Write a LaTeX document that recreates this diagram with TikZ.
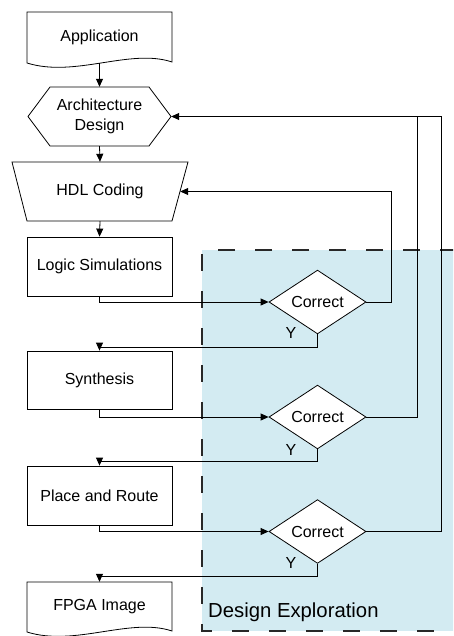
\documentclass[tikz,border=0pt]{standalone}
\usepackage{fontspec}
\setmainfont{Liberation Sans}
\usetikzlibrary{arrows.meta,shapes.geometric,calc}

\definecolor{exploreblue}{RGB}{211,235,242}
\definecolor{edgegray}{RGB}{40,40,40}

\tikzset{
  flow/.style={line width=0.8pt, draw=black},
  arr/.style={flow, -{Triangle[length=8pt,width=7pt]}},
  lbl/.style={font=\fontsize{16}{20}\selectfont},
  holder/.style={rectangle, draw=none, inner sep=0pt, align=center, lbl},
  stepbox/.style={rectangle, draw, fill=white, line width=0.8pt, inner sep=0pt,
    minimum width=145pt, minimum height=59pt, lbl},
  check/.style={diamond, draw, fill=white, line width=0.8pt, inner sep=0pt,
    minimum width=97pt, minimum height=58pt, lbl},
  regionedge/.style={line width=1.4pt, draw=edgegray, dash pattern=on 17pt off 20pt},
  regionlabel/.style={font=\fontsize{20.3}{24}\selectfont, inner sep=0pt}
}

\begin{document}
\begin{tikzpicture}[x=1pt,y=-1pt]
\clip (0,0) rectangle (453,636);

% design exploration region
\fill[exploreblue] (202,250) rectangle (470,631);
\draw[regionedge, dash phase=-13pt] (470,250) -- (202,250) -- (202,631) -- (470,631);
\node[regionlabel, anchor=west] (explore) at (208,612) {Design Exploration};

% outlines of the non-rectangular steps
\draw[flow, fill=white] (27,63) -- (27,12) -- (172,12) -- (172,62)
  .. controls (130,48) and (75,78) .. (27,63) -- cycle;
\draw[flow, fill=white] (28,116.5) -- (50,87) -- (149,87) -- (171,116.5)
  -- (149,146) -- (50,146) -- cycle;
\draw[flow, fill=white] (12,162) -- (188,162) -- (172,221) -- (27,221) -- cycle;
\draw[flow, fill=white] (27,632) -- (27,582) -- (172,582) -- (172,631)
  .. controls (130,617) and (75,647) .. (27,632) -- cycle;

% step nodes
\node[holder, minimum width=145pt, minimum height=51pt] (app) at (99.5,37.5)
  {\raisebox{3.5pt}{Application}};
\node[holder, minimum width=143pt, minimum height=59pt] (arch) at (99.5,116.5)
  {Architecture\\Design};
\node[holder, minimum width=176pt, minimum height=59pt] (hdl) at (100,191.5)
  {HDL Coding};
\node[stepbox] (logic) at (99.5,266.5) {Logic Simulations};
\node[stepbox, minimum height=58pt] (synth) at (99.5,380) {Synthesis};
\node[stepbox] (pr) at (99.5,495.5) {Place and Route};
\node[holder, minimum width=145pt, minimum height=50pt] (fpga) at (99.5,607)
  {\raisebox{5pt}{FPGA Image}};

% checks
\node[check] (c1) at (317.5,302) {Correct};
\node[check] (c2) at (317.5,417) {Correct};
\node[check] (c3) at (317.5,531.5) {Correct};

\node[lbl, inner sep=0pt] (y1) at (291,333) {Y};
\node[lbl, inner sep=0pt] (y2) at (291,450) {Y};
\node[lbl, inner sep=0pt] (y3) at (291,563) {Y};

% main flow
\draw[arr] (app.south) -- (arch.north);
\draw[arr] (arch.south) -- (hdl.north);
\draw[arr] (hdl.south) -- (logic.north);
\draw[arr] (logic.south) |- (c1.west);
\draw[arr] (c1.south) -- ++(0,13) -| (synth.north);
\draw[arr] (synth.south) |- (c2.west);
\draw[arr] (c2.south) -- ++(0,12) -| (pr.north);
\draw[arr] (pr.south) |- (c3.west);
\draw[arr] (c3.south) -- ++(0,13) -| (fpga.north);

% feedback loops
\coordinate (hdlin) at ($(hdl.east)+(-8,0)$);
\coordinate (fbmid) at (417,116.5);
\coordinate (fbright) at (441,116.5);
\draw[arr] (c1.east) -- ++(25,0) |- (hdlin);
\draw[flow] (c2.east) -| (fbmid);
\draw[arr] (c3.east) -| (fbright) -- (arch.east);
\end{tikzpicture}
\end{document}
